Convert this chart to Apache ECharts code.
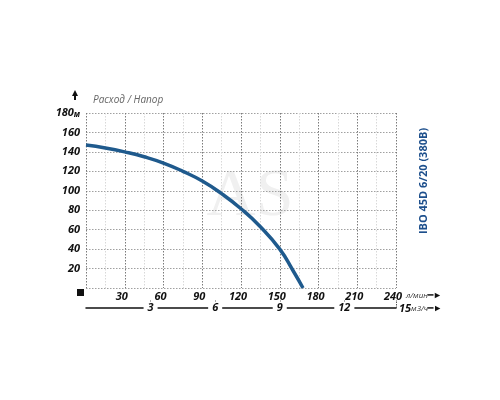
<!DOCTYPE html>
<html>
<head>
<meta charset="utf-8">
<script src="https://cdn.jsdelivr.net/npm/echarts@6/dist/echarts.min.js"></script>
<style>
  html, body { margin: 0; padding: 0; background: #fff; }
  #chart { width: 500px; height: 400px; }
</style>
</head>
<body>
<div id="chart"></div>
<script>
// расход, л/мин
const flowLmin = [0, 15, 30, 45, 60, 75, 90, 105, 120, 135, 150, 160, 168];
// напор, м
const headM = [147, 144, 140, 135, 128.5, 120, 110, 97, 81.5, 63, 40, 18.5, 0];
const xTicks = [0, 30, 60, 90, 120, 150, 180, 210, 240];
const yTicks = [0, 20, 40, 60, 80, 100, 120, 140, 160, 180];
const m3Ticks = [3, 6, 9, 12];
const pumpName = 'IBO 45D 6/20 (380B)';

const labelFont = { fontFamily: 'Open Sans', fontWeight: 'bold', fontStyle: 'italic', fontSize: 11, color: '#111' };

const chart = echarts.init(document.getElementById('chart'), null, { renderer: 'canvas' });

const options = {
  animation: false,
  grid: { left: 86, right: 104, top: 113, bottom: 112 },
  title: {
    text: 'Расход / Напор',
    left: 88, top: 90,
    textStyle: { fontFamily: 'Open Sans', fontStyle: 'italic', fontWeight: 'normal', fontSize: 10, color: '#666' }
  },
  xAxis: [
    {
      type: 'value',
      min: 0, max: xTicks[xTicks.length - 1], interval: 30,
      axisLine: { show: false },
      axisTick: { show: false },
      axisLabel: Object.assign({}, labelFont, {
        margin: 3,
        padding: [0, 6, 0, 0],
        formatter: v => v === 0 ? '' : String(v)
      }),
      splitLine: { show: true, lineStyle: { color: '#7a7a7a', type: [1.5, 1.5], width: 1 } },
      minorTick: { show: false, splitNumber: 2 },
      minorSplitLine: { show: true, lineStyle: { color: '#d8d8d8', type: [1.5, 1.5], width: 1 } },
      name: '{u|л/мин}{a|━►}',
      nameLocation: 'end',
      nameGap: 5,
      nameTextStyle: {
        padding: [16, 0, 0, 0],
        rich: {
          u: { fontFamily: 'Open Sans', fontStyle: 'italic', fontSize: 8, color: '#333' },
          a: { fontSize: 9, color: '#111' }
        }
      }
    },
    {
      type: 'value',
      position: 'bottom',
      offset: 20,
      min: 0, max: xTicks[xTicks.length - 1] * 60 / 1000, interval: 3,
      axisLine: { show: true, lineStyle: { color: '#111', width: 1.5 } },
      axisTick: { show: true, inside: true, length: 8, lineStyle: { color: '#555', width: 1, type: [1.5, 1] } },
      axisLabel: Object.assign({}, labelFont, {
        margin: -6,
        backgroundColor: '#fff',
        padding: [0, 4],
        showMinLabel: false,
        formatter: v => m3Ticks.indexOf(v) >= 0 ? String(v) : ''
      }),
      splitLine: { show: false },
      name: '{n|15}{u|м3/ч}{a|━►}',
      nameLocation: 'end',
      nameGap: 3,
      nameTextStyle: {
        padding: [2, 0, 0, 0],
        rich: {
          n: labelFont,
          u: { fontFamily: 'Open Sans', fontStyle: 'italic', fontSize: 8, color: '#333' },
          a: { fontSize: 9, color: '#111' }
        }
      }
    }
  ],
  yAxis: {
    type: 'value',
    min: 0, max: yTicks[yTicks.length - 1], interval: 20,
    axisLine: { show: false },
    axisTick: { show: false },
    axisLabel: Object.assign({}, labelFont, {
      margin: 6,
      formatter: v => v === 0 ? '' : (v === 180 ? v + '{u|м}' : String(v)),
      rich: { u: { fontFamily: 'Open Sans', fontStyle: 'italic', fontSize: 8, color: '#111', padding: [3, 0, 0, 0] } }
    }),
    splitLine: { show: true, lineStyle: { color: '#a0a0a0', type: [1.5, 1.5], width: 1 } }
  },
  graphic: [
    {
      type: 'text', left: 'center', top: 163, z: -1, silent: true,
      style: { text: 'AS', font: '68px "Liberation Serif"', fill: '#f0f0f0' }
    },
    {
      type: 'text', x: 424, y: 181, rotation: Math.PI / 2,
      style: {
        text: pumpName, font: 'bold 11px "Open Sans"', fill: '#1d4f8c',
        align: 'center', verticalAlign: 'middle'
      }
    },
    {
      type: 'group', left: 72, top: 90,
      children: [
        { type: 'polygon', shape: { points: [[3, 0], [6, 6], [0, 6]] }, style: { fill: '#111' } },
        { type: 'rect', shape: { x: 2, y: 5, width: 2, height: 5 }, style: { fill: '#111' } }
      ]
    },
    {
      type: 'rect', left: 77, top: 289,
      shape: { width: 7, height: 7 }, style: { fill: '#111' }
    }
  ],
  series: [
    {
      name: 'Напор',
      type: 'line',
      xAxisIndex: 0,
      smooth: 0.5,
      symbol: 'none',
      lineStyle: { color: '#1f5a8d', width: 3.5 },
      data: flowLmin.map((q, i) => [q, headM[i]])
    }
  ]
};

chart.setOption(options);
</script>
</body>
</html>
